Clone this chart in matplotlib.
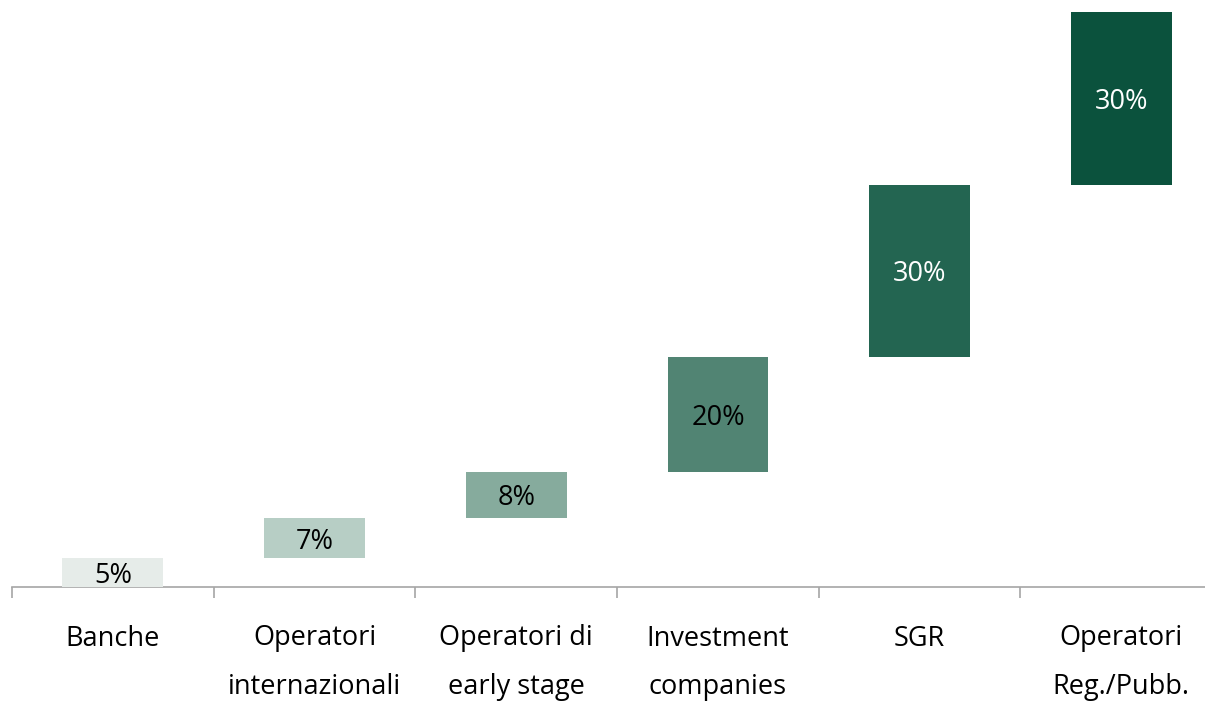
import matplotlib
matplotlib.use("Agg")
import matplotlib.pyplot as plt
import numpy as np

categories = ["Banche", "Operatori\ninternazionali", "Operatori di\nearly stage",
              "Investment\ncompanies", "SGR", "Operatori\nReg./Pubb."]
values = [5, 7, 8, 20, 30, 30]
labels = ["5%", "7%", "8%", "20%", "30%", "30%"]
colors = ["#E6ECE9", "#B7CEC5", "#86AB9D", "#518473", "#236551", "#0B523D"]
text_colors = ["#000000", "#000000", "#000000", "#000000", "#FFFFFF", "#FFFFFF"]

plt.rcParams['font.family'] = ['Open Sans', 'DejaVu Sans']

W, H = 1205, 703
fig = plt.figure(figsize=(W / 100, H / 100), dpi=100)
left_px, right_px = 12, 12 + 6 * 201.7
base_px, top_px = 587, 12
ax = fig.add_axes([left_px / W, (H - base_px) / H, (right_px - left_px) / W, (base_px - top_px) / H])

x = np.arange(len(values))
vals = np.array(values, dtype=float)
bottoms = np.cumsum(vals) - vals
ax.bar(x, vals, bottom=bottoms, width=0.5, color=colors, zorder=2)
for xi, b, v, lab, tc in zip(x, bottoms, vals, labels, text_colors):
    ax.text(xi, b + v / 2 - 0.6, lab, ha="center", va="center", fontsize=19.5, color=tc, zorder=3)

ax.set_xlim(-0.5, len(values) - 0.5)
ax.set_ylim(0, 100)
for s in ["top", "right", "left"]:
    ax.spines[s].set_visible(False)
ax.spines["bottom"].set_color("#A6A6A6")
ax.spines["bottom"].set_linewidth(1.2)
ax.spines["bottom"].set_zorder(1)
ax.set_yticks([])
ax.set_xticks(x)
ax.set_xticklabels(categories, fontsize=19.5, linespacing=1.99)
ax.tick_params(axis="x", which="major", length=0, pad=27)
ax.set_xticks(np.arange(-0.5, len(values), 1.0), minor=True)
ax.tick_params(axis="x", which="minor", length=8, color="#A6A6A6", width=1.2)

fig.savefig("out.png", dpi=100)
